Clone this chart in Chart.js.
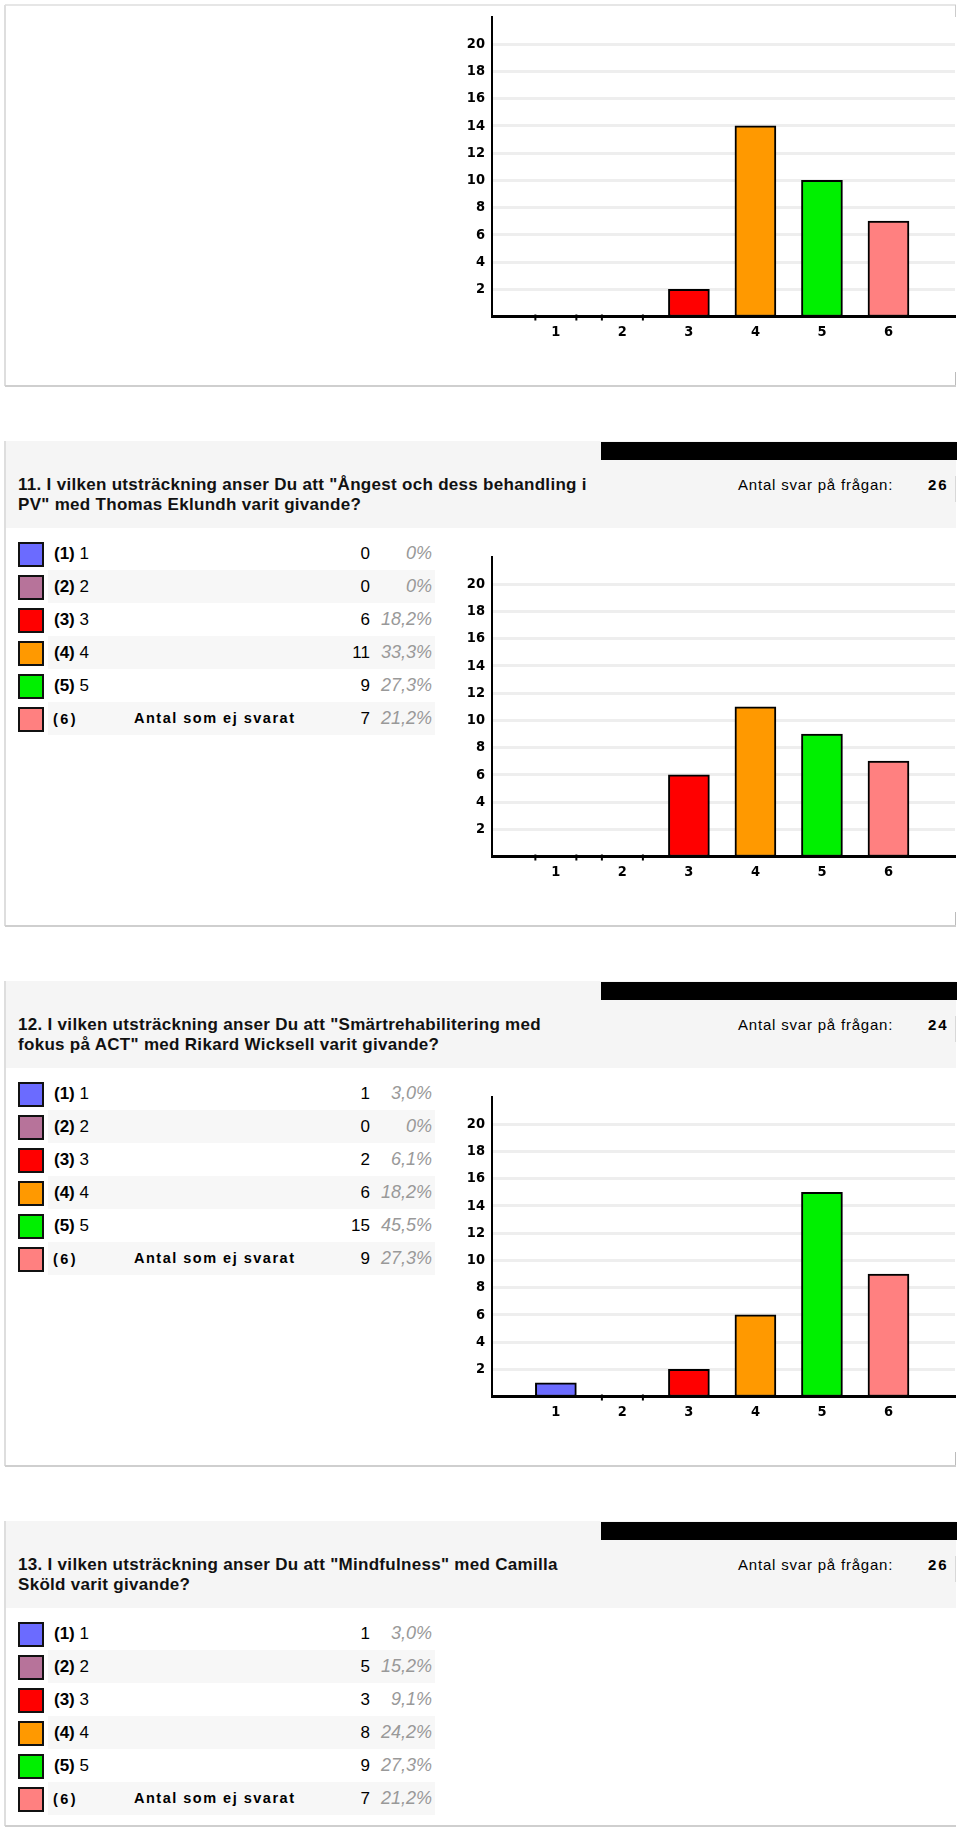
<!DOCTYPE html>
<html><head><meta charset="utf-8">
<script src="https://cdn.jsdelivr.net/npm/chart.js@4.4.0/dist/chart.umd.min.js"></script>
<style>
html,body{margin:0;padding:0;background:#fff;}
#page{position:relative;width:960px;height:1832px;overflow:hidden;font-family:'Liberation Sans',Arial,Helvetica,sans-serif;color:#000;}
.a{position:absolute;}
.title{font-weight:bold;font-size:17px;letter-spacing:0.3px;line-height:20px;white-space:nowrap;color:#111;}
.antal{font-size:15px;letter-spacing:0.8px;white-space:nowrap;line-height:20px;}
.tot{font-size:15px;font-weight:bold;letter-spacing:2px;line-height:20px;}
.sw{box-sizing:border-box;border:2px solid #111;}
.lbl{font-size:17px;line-height:33px;white-space:nowrap;}
.sp{font-size:14.5px;font-weight:bold;letter-spacing:1.5px;}
.cnt{font-size:17px;line-height:33px;text-align:right;}
.pct{font-size:18px;line-height:33px;text-align:right;font-style:italic;color:#999;}
</style></head><body><div id="page"></div>
<script>
// ---- data ----
const categories = [1, 2, 3, 4, 5, 6];
const yTickValues = [2, 4, 6, 8, 10, 12, 14, 16, 18, 20];
const values10 = [0, 0, 2, 14, 10, 7];
const values11 = [0, 0, 6, 11, 9, 7];
const values12 = [1, 0, 2, 6, 15, 9];
const values13 = [1, 5, 3, 8, 9, 7];
const percents11 = ['0%', '0%', '18,2%', '33,3%', '27,3%', '21,2%'];
const percents12 = ['3,0%', '0%', '6,1%', '18,2%', '45,5%', '27,3%'];
const percents13 = ['3,0%', '15,2%', '9,1%', '24,2%', '27,3%', '21,2%'];
const optionNumbers = ['(1)', '(2)', '(3)', '(4)', '(5)', '(6)'];
const optionTexts = ['1', '2', '3', '4', '5', 'Antal som ej svarat'];
const totals = [26, 24, 26];
const titles11 = ['11. I vilken utsträckning anser Du att "Ångest och dess behandling i', 'PV" med Thomas Eklundh varit givande?'];
const titles12 = ['12. I vilken utsträckning anser Du att "Smärtrehabilitering med', 'fokus på ACT" med Rikard Wicksell varit givande?'];
const titles13 = ['13. I vilken utsträckning anser Du att "Mindfulness" med Camilla', 'Sköld varit givande?'];
const antalLabel = 'Antal svar på frågan:';

// ---- styles ----
const colors = ['#6b6bff', '#b7739a', '#ff0000', '#ff9900', '#00f000', '#ff8080'];
const tickFont = {family: "'DejaVu Sans Condensed','Liberation Sans Narrow','DejaVu Sans',sans-serif", size: 14.5, weight: 'bold'};

const page = document.getElementById('page');
function box(x, y, w, h, css, html) {
  const d = document.createElement('div');
  d.className = 'a' + (css && css.cls ? ' ' + css.cls : '');
  d.style.left = x + 'px'; d.style.top = y + 'px';
  if (w != null) d.style.width = w + 'px';
  if (h != null) d.style.height = h + 'px';
  if (css && css.bg) d.style.background = css.bg;
  if (html != null) d.innerHTML = html;
  page.appendChild(d);
  return d;
}

const zeroTicks = {
  id: 'zeroTicks',
  afterDatasetsDraw(chart) {
    const meta = chart.getDatasetMeta(0);
    const ctx = chart.ctx;
    const yb = chart.scales.y.getPixelForValue(0);
    ctx.save();
    ctx.fillStyle = '#000';
    meta.data.forEach((bar, i) => {
      if (chart.data.datasets[0].data[i].y === 0) {
        const w = bar.width;
        ctx.fillRect(bar.x - w / 2 - 1, yb - 2, 2, 6);
        ctx.fillRect(bar.x + w / 2 - 1, yb - 2, 2, 6);
      }
    });
    ctx.restore();
  }
};

function drawChart(top, values) {
  const c = document.createElement('canvas');
  c.width = 520; c.height = 360;
  c.className = 'a';
  c.style.left = '440px'; c.style.top = top + 'px';
  c.style.width = '520px'; c.style.height = '360px';
  page.appendChild(c);
  new Chart(c, {
    type: 'bar',
    data: {
      datasets: [{
        data: categories.map((k, i) => ({x: k, y: values[i]})),
        backgroundColor: colors,
        borderColor: '#000',
        borderWidth: 2,
        borderSkipped: false,
        barThickness: 41
      }]
    },
    options: {
      responsive: false, animation: false, devicePixelRatio: 1,
      layout: {padding: {top: 17, right: 5, left: 0, bottom: 0}},
      plugins: {legend: {display: false}, tooltip: {enabled: false}},
      scales: {
        x: {
          type: 'linear', min: 0.04, max: 7, offset: false,
          afterBuildTicks: s => { s.ticks = categories.map(v => ({value: v})); },
          afterFit: s => { s.height = 43.5; },
          grid: {display: false, drawTicks: false, offset: false},
          border: {color: '#000', width: 3},
          ticks: {font: tickFont, color: '#000', padding: 7, autoSkip: false, maxRotation: 0}
        },
        y: {
          min: 0, max: 22,
          afterBuildTicks: s => { s.ticks = yTickValues.map(v => ({value: v})); },
          afterFit: s => { s.width = 52; },
          grid: {color: '#eeeeee', lineWidth: 3, drawTicks: false},
          border: {color: '#000', width: 2},
          ticks: {font: tickFont, color: '#000', padding: 7}
        }
      }
    },
    plugins: [zeroTicks]
  });
}

function section(B, titleLines, total, values, percents, withChart) {
  box(5, 441 + B, 951, 87, {bg: '#f5f5f5'});
  box(601, 441.5 + B, 356, 18, {bg: '#000'});
  box(4, 441 + B, 2, (withChart ? 485 : 305), {bg: '#dedede'});
  box(18, 475 + B, null, null, {cls: 'title'}, titleLines.join('<br>'));
  box(738, 475 + B, null, null, {cls: 'antal'}, antalLabel);
  box(928, 475 + B, null, null, {cls: 'tot'}, String(total));
  box(955, 476 + B, 1, 26, {bg: '#d8d8d8'});
  for (let i = 0; i < 6; i++) {
    const rt = 537 + 33 * i + B;
    if (i % 2 === 1) box(48, rt, 387, 33, {bg: '#f7f7f7'});
    box(18, rt + 4.5, 26, 25, {cls: 'sw', bg: colors[i]});
    let html;
    if (i < 5) html = '<b>' + optionNumbers[i] + '</b> ' + optionTexts[i];
    else html = '<span class="sp" style="letter-spacing:2.4px">' + optionNumbers[i] + '</span><span class="sp" style="position:absolute;left:81px">' + optionTexts[i] + '</span>';
    box(i < 5 ? 54 : 53, rt, null, 33, {cls: 'lbl'}, html);
    box(290, rt, 80, 33, {cls: 'cnt'}, String(values[i]));
    box(372, rt, 60, 33, {cls: 'pct'}, percents[i]);
  }
  if (withChart) {
    drawChart(540 + B, values);
    box(5, 925 + B, 951, 2, {bg: '#cfcfcf'});
    box(955, 912 + B, 1, 13, {bg: '#bbb'});
  }
}

// top (tail of previous question)
box(5, 4, 951, 2, {bg: '#e6e6e6'});
box(4, 5, 2, 381, {bg: '#dedede'});
box(955, 5, 1, 12, {bg: '#ccc'});
drawChart(0, values10);
box(5, 385, 951, 2, {bg: '#cfcfcf'});
box(955, 372, 1, 13, {bg: '#bbb'});

section(0, titles11, totals[0], values11, percents11, true);
section(540, titles12, totals[1], values12, percents12, true);
section(1080, titles13, totals[2], values13, percents13, false);
box(5, 1825, 951, 2, {bg: '#cfcfcf'});
</script>
</body></html>
